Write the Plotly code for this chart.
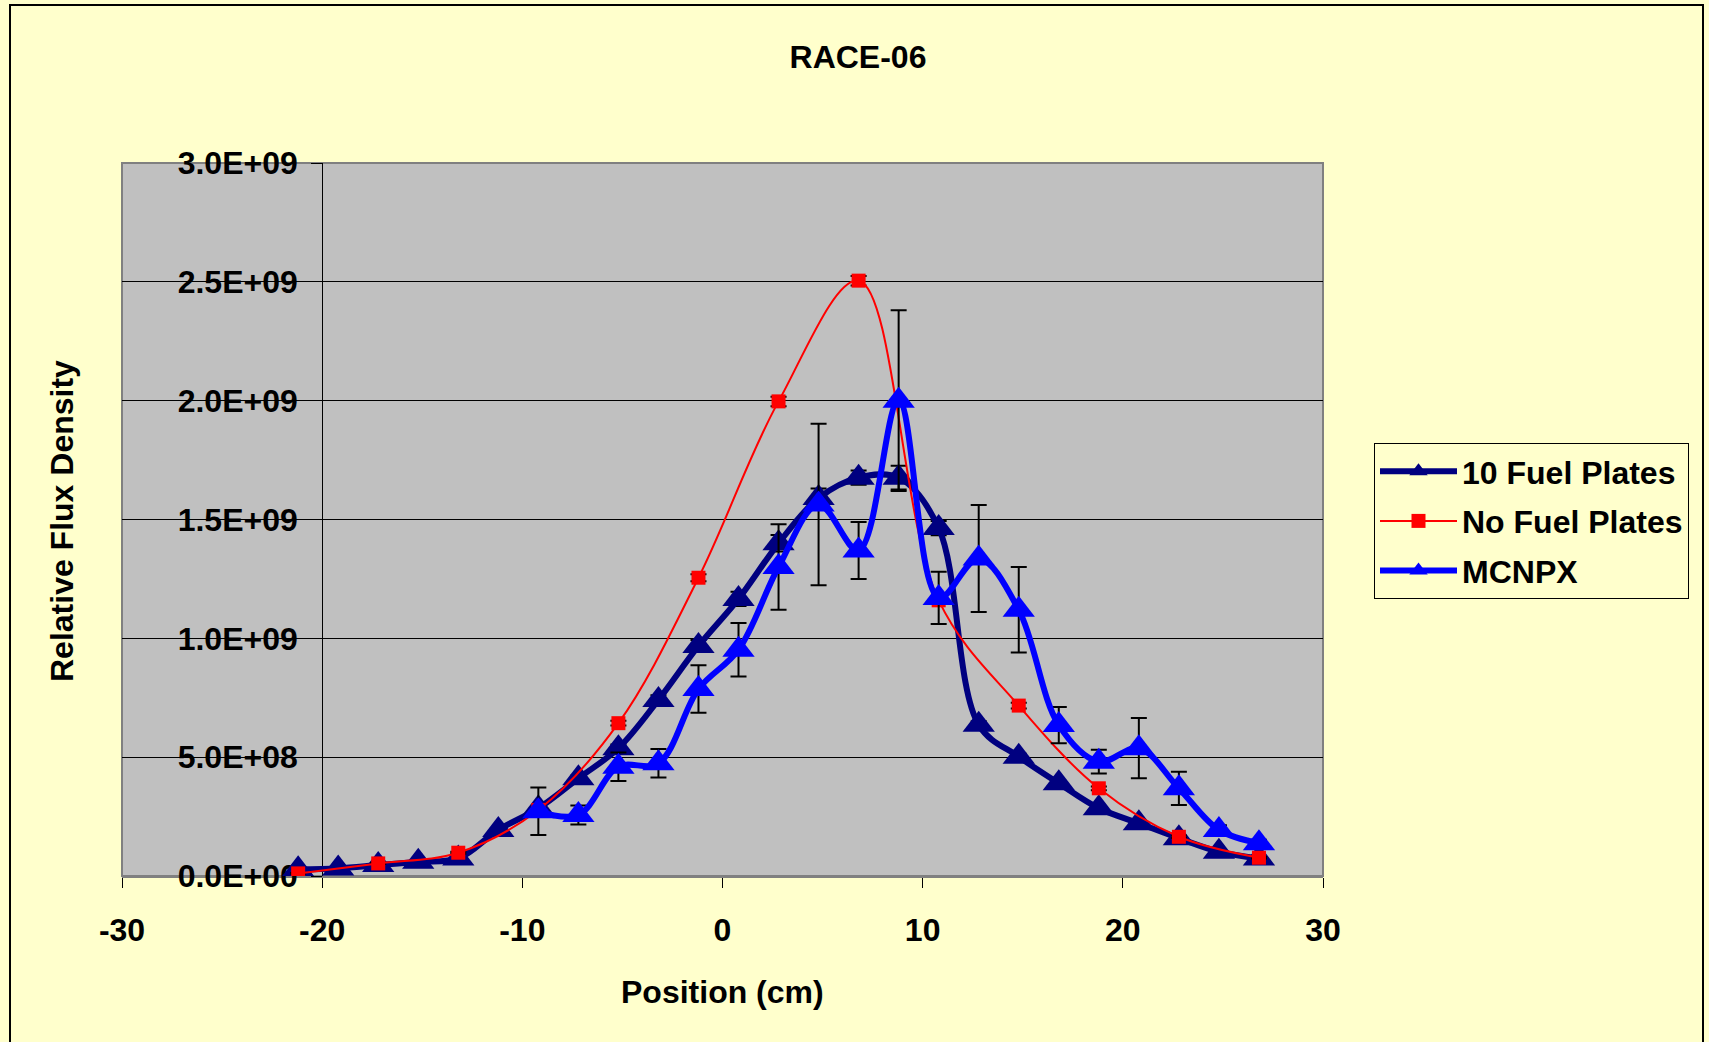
import plotly.graph_objects as go

# ---------------- data (flux in units of 1e9) ----------------
pos_10 = [-21.2, -19.2, -17.2, -15.2, -13.2, -11.2, -9.2, -7.2, -5.2, -3.2, -1.2, 0.8, 2.8,
          4.8, 6.8, 8.8, 10.8, 12.8, 14.8, 16.8, 18.8, 20.8, 22.8, 24.8, 26.8]
flux_10 = [0.028, 0.032, 0.046, 0.060, 0.074, 0.194, 0.285, 0.411, 0.538, 0.741, 0.968, 1.166, 1.400,
           1.590, 1.676, 1.676, 1.464, 0.636, 0.502, 0.390, 0.285, 0.222, 0.159, 0.102, 0.074]
err_10 = [0.003, 0.003, 0.004, 0.005, 0.006, 0.008, 0.010, 0.012, 0.015, 0.020, 0.025, 0.030, 0.035,
          0.040, 0.030, 0.050, 0.030, 0.015, 0.012, 0.010, 0.008, 0.006, 0.005, 0.004, 0.003]

pos_no = [-21.2, -17.2, -13.2, -9.2, -5.2, -1.2, 2.8, 6.8, 10.8, 14.8, 18.8, 22.8, 26.8]
flux_no = [0.011, 0.053, 0.098, 0.278, 0.643, 1.255, 1.997, 2.505, 1.160, 0.717, 0.369, 0.165, 0.077]
err_no = [0.002, 0.003, 0.004, 0.006, 0.010, 0.015, 0.020, 0.020, 0.015, 0.012, 0.008, 0.005, 0.003]

pos_mc = [-9.2, -7.2, -5.2, -3.2, -1.2, 0.8, 2.8, 4.8, 6.8, 8.8, 10.8, 12.8, 14.8, 16.8,
          18.8, 20.8, 22.8, 24.8, 26.8]
flux_mc = [0.272, 0.257, 0.460, 0.474, 0.787, 0.952, 1.300, 1.563, 1.370, 2.000, 1.170, 1.336, 1.120, 0.635,
           0.481, 0.538, 0.369, 0.194, 0.138]
err_mc = [0.100, 0.040, 0.060, 0.060, 0.100, 0.113, 0.180, 0.340, 0.120, 0.380, 0.110, 0.225, 0.180, 0.076,
          0.050, 0.127, 0.070, 0.020, 0.015]

SCALE = 1e9
x_tickvals = [-30, -20, -10, 0, 10, 20, 30]
x_ticktext = ["-30", "-20", "-10", "0", "10", "20", "30"]
y_tickvals = [0, 0.5e9, 1.0e9, 1.5e9, 2.0e9, 2.5e9, 3.0e9]
y_ticktext = ["0.0E+00", "5.0E+08", "1.0E+09", "1.5E+09", "2.0E+09", "2.5E+09", "3.0E+09"]

# ---------------- geometry ----------------
W, H = 1709, 1042
L, R, T, B = 122, 1323, 163, 876          # plot area in pixels
PW, PH = R - L, B - T


def px(xp):
    return (xp - L) / PW


def py(yp):
    return (B - yp) / PH


FONT = "Arial, 'Liberation Sans', sans-serif"
BG = "#FFFFCC"


def scaled(v):
    return [a * SCALE for a in v]


fig = go.Figure()

fig.add_trace(go.Scatter(
    x=pos_10, y=scaled(flux_10), name="10 Fuel Plates", legendgroup="a",
    mode="lines+markers", line=dict(color="#000080", width=6, shape="spline", smoothing=1),
    marker=dict(symbol="triangle-up", size=28, color="#000080"),
    error_y=dict(type="data", array=scaled(err_10), color="black", thickness=2, width=8),
))
fig.add_trace(go.Scatter(
    x=pos_no, y=scaled(flux_no), name="No Fuel Plates", legendgroup="b",
    mode="lines+markers", line=dict(color="#FF0000", width=2, shape="spline", smoothing=1),
    marker=dict(symbol="square", size=14, color="#FF0000"),
    error_y=dict(type="data", array=scaled(err_no), color="black", thickness=2, width=8),
))
fig.add_trace(go.Scatter(
    x=pos_mc, y=scaled(flux_mc), name="MCNPX", legendgroup="c",
    mode="lines+markers", line=dict(color="#0000FF", width=6, shape="spline", smoothing=1),
    marker=dict(symbol="triangle-up", size=28, color="#0000FF"),
    error_y=dict(type="data", array=scaled(err_mc), color="black", thickness=2, width=8),
))

fig.update_layout(
    width=W, height=H,
    margin=dict(l=L, r=W - R, t=T, b=H - B, pad=0),
    paper_bgcolor=BG, plot_bgcolor="#C0C0C0",
    font=dict(family=FONT, size=32, color="black", weight="bold"),
    title=dict(text="RACE-06", x=858 / W, xanchor="center", y=1 - 57 / H, yanchor="middle",
               xref="container", yref="container",
               font=dict(family=FONT, size=32, weight="bold")),
    xaxis=dict(range=[-30, 30], tickvals=x_tickvals, ticktext=x_ticktext, showgrid=False,
               zeroline=False, showline=True, linecolor="#808080", linewidth=2,
               ticks="outside", ticklen=10, tickcolor="black", tickwidth=1,
               ticklabelstandoff=15, layer="below traces"),
    yaxis=dict(range=[0, 3.0e9], tickvals=y_tickvals, ticktext=y_ticktext, anchor="free",
               position=1 / 6, showgrid=True, gridcolor="black", gridwidth=1, zeroline=False,
               showline=True, linecolor="black", linewidth=1, ticks="outside", ticklen=11,
               tickcolor="black", tickwidth=1, ticklabelstandoff=7, layer="below traces"),
    showlegend=True,
    legend=dict(x=px(1374), y=py(443), xanchor="left", yanchor="top", bgcolor=BG,
                bordercolor="black", borderwidth=1, font=dict(family=FONT, size=32, weight="bold"),
                itemwidth=77, traceorder="grouped", tracegroupgap=5),
)

# plot area border
fig.add_shape(type="rect", xref="x domain", yref="y domain", x0=0, x1=1, y0=0, y1=1,
              line=dict(color="#808080", width=2), layer="below")
# chart area border
fig.add_shape(type="rect", xref="paper", yref="paper", x0=px(10), x1=px(1703), y0=py(1080), y1=py(5),
              line=dict(color="black", width=2), layer="above")

fig.add_annotation(text="Position (cm)", xref="paper", yref="paper", x=px(722), y=py(992),
                   showarrow=False, xanchor="center", yanchor="middle",
                   font=dict(family=FONT, size=32, weight="bold"))
fig.add_annotation(text="Relative Flux Density", xref="paper", yref="paper", x=px(62), y=py(521),
                   showarrow=False, xanchor="center", yanchor="middle", textangle=-90,
                   font=dict(family=FONT, size=32, weight="bold"))

fig.write_html("out.html", config={"displayModeBar": False},
               post_script="document.body.style.margin='0px';")
